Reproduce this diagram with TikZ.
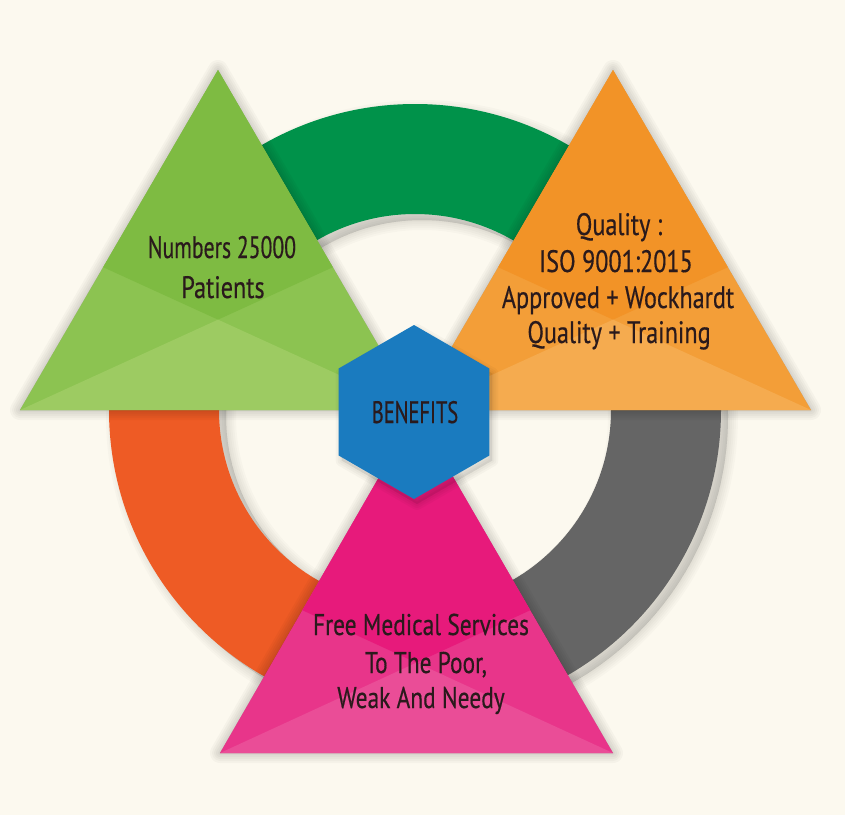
\documentclass[tikz,border=0pt]{standalone}
\usepackage{fontspec}
\newfontfamily\labfont[FakeStretch=0.78,FakeBold=0.4]{PT Sans}
\newfontfamily\numfont[FakeStretch=0.70,FakeBold=0.4]{PT Sans}
\newfontfamily\benfont[FakeStretch=0.66,FakeBold=0.4]{PT Sans}
\usetikzlibrary{calc}
\definecolor{bg}{HTML}{FCF9EF}
\definecolor{ringgreen}{HTML}{00924A}
\definecolor{ringorange}{HTML}{EE5B25}
\definecolor{ringgrey}{HTML}{656565}
\definecolor{gdark}{HTML}{7EBB42}
\definecolor{gmid}{HTML}{8CC351}
\definecolor{glight}{HTML}{9DCB62}
\definecolor{odark}{HTML}{F29327}
\definecolor{omid}{HTML}{F39E38}
\definecolor{olight}{HTML}{F5AB4F}
\definecolor{pdark}{HTML}{E71A7B}
\definecolor{pmid}{HTML}{E8358A}
\definecolor{plight}{HTML}{EA4D97}
\definecolor{hexblue}{HTML}{1A7BBF}
\definecolor{txt}{HTML}{2A1A1C}
\tikzset{
  lab/.style={text=txt, anchor=base, inner sep=0pt},
  shadowlayer/.style={fill=black, draw=black, opacity=0.028, line join=round},
}
\newcommand\ringseg[2]{($(415,410)+(#1:306)$) arc[start angle=#1,end angle=#2,radius=306] -- ($(415,410)+(#2:196)$) arc[start angle=#2,end angle=#1,radius=196] -- cycle}
\newcommand\tripts[6]{%
  \coordinate (#1A) at (#2,#3);
  \coordinate (#1BL) at (#4,#6);
  \coordinate (#1BR) at (#5,#6);
  \coordinate (#1L) at ($(#1BL)!0.42!(#1A)$);
  \coordinate (#1R) at ($(#1BR)!0.42!(#1A)$);
  \coordinate (#1V) at (intersection of #1L--#1BR and #1R--#1BL);
}
\newcommand\trishadow[1]{%
  \foreach \w in {20,16,12,8,4,1}{\path[shadowlayer, line width=\w pt, shift={(3,8)}] (#1A) -- (#1BL) -- (#1BR) -- cycle;}
}
\newcommand\facettri[4]{%
  \fill[#3] (#1A) -- (#1BL) -- (#1BR) -- cycle;
  \fill[#2] (#1A) -- (#1L) -- (#1V) -- (#1R) -- cycle;
  \fill[#4] (#1BL) -- (#1BR) -- (#1V) -- cycle;
}
\begin{document}
\begin{tikzpicture}[x=1pt,y=-1pt]
\useasboundingbox (0,0) rectangle (845,815);
\fill[bg] (0,0) rectangle (845,815);
% ring shadow
\foreach \w in {20,16,12,8,4,1}{\path[shadowlayer, opacity=0.02, line width=\w pt, even odd rule, shift={(7,6)}] (415,410) circle[radius=306] (415,410) circle[radius=196];}
% ring
\fill[ringgreen] \ringseg{180}{360};
\fill[ringorange] \ringseg{90}{180};
\fill[ringgrey] \ringseg{0}{90};
% triangles
\tripts{g}{218}{70}{20}{416}{410}
\tripts{o}{613}{70}{415}{811}{410}
\tripts{p}{416}{413}{220}{613}{753}
\trishadow{g}
\trishadow{o}
\trishadow{p}
\facettri{g}{gdark}{gmid}{glight}
\facettri{o}{odark}{omid}{olight}
\facettri{p}{pdark}{pmid}{plight}
% hexagon
\foreach \w in {12,8,4}{\path[shadowlayer, line width=\w pt, shift={(3,5)}] (414,412) +(30:87) -- +(90:87) -- +(150:87) -- +(210:87) -- +(270:87) -- +(330:87) -- cycle;}
\fill[hexblue] (414,412) +(30:87) -- +(90:87) -- +(150:87) -- +(210:87) -- +(270:87) -- +(330:87) -- cycle;
\node[lab, font=\benfont\fontsize{31}{31}\selectfont] (ben) at (415,423) {BENEFITS};
% texts
\node[lab, font=\numfont\fontsize{31}{31}\selectfont] (g1) at (222,258) {Numbers 25000};
\node[lab, font=\labfont\fontsize{31}{31}\selectfont] (g2) at (223,298) {Patients};
\node[lab, font=\labfont\fontsize{31}{31}\selectfont] (o1) at (619,235) {Quality :};
\node[lab, font=\labfont\fontsize{31}{31}\selectfont] (o2) at (616,272) {ISO 9001:2015};
\node[lab, font=\labfont\fontsize{31}{31}\selectfont] (o3) at (618,308) {Approved + Wockhardt};
\node[lab, font=\labfont\fontsize{31}{31}\selectfont] (o4) at (619,343) {Quality + Training};
\node[lab, font=\labfont\fontsize{30}{30}\selectfont] (p1) at (421,635) {Free Medical Services};
\node[lab, font=\labfont\fontsize{30}{30}\selectfont] (p2) at (426,673) {To The Poor,};
\node[lab, font=\labfont\fontsize{30}{30}\selectfont] (p3) at (421,708) {Weak And Needy};
\end{tikzpicture}
\end{document}
